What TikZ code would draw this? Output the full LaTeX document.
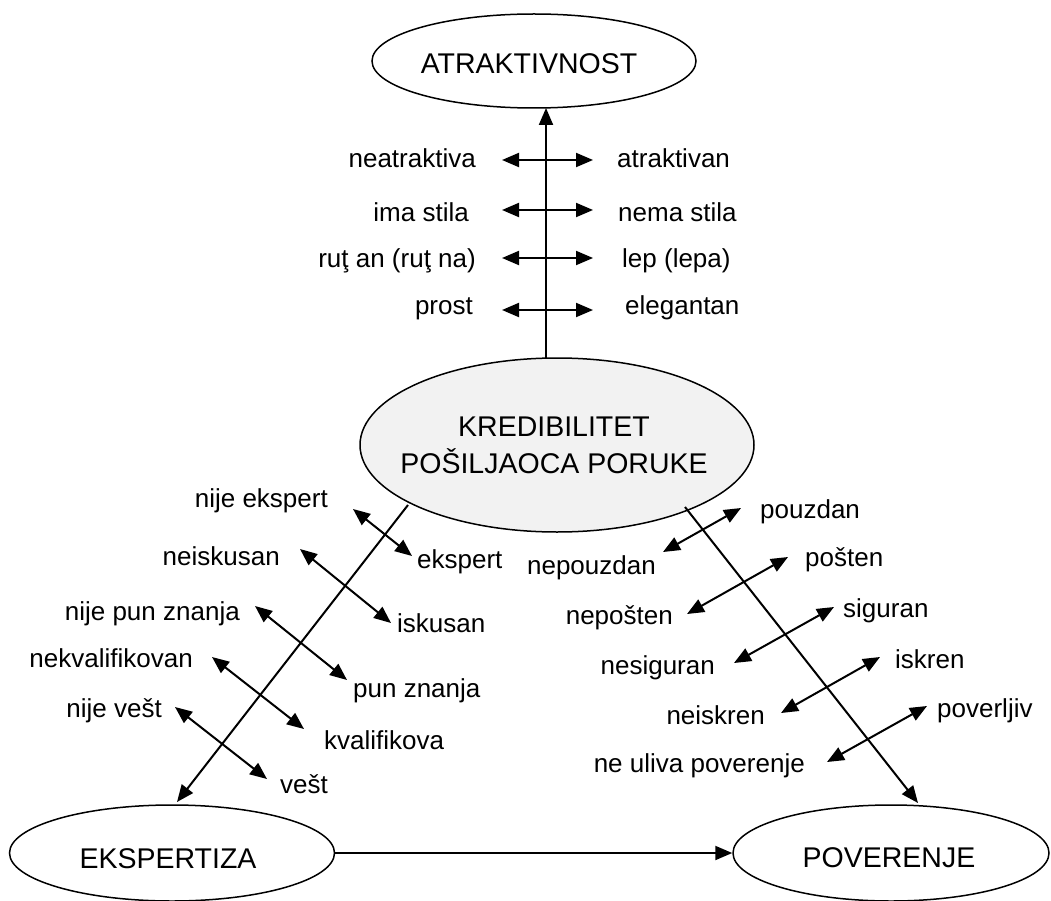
\documentclass[tikz,border=0pt]{standalone}
\usepackage{fontspec}
\setmainfont{Liberation Sans}
\usetikzlibrary{shapes.geometric,arrows.meta}
\definecolor{kredfill}{HTML}{F2F2F2}
\begin{document}
\begin{tikzpicture}[x=1pt,y=-1pt,
  oval/.style={draw, ellipse, line width=1.5pt, inner sep=0pt},
  captext/.style={inner sep=0pt, align=center, font=\fontsize{28.5}{37}\selectfont},
  lbl/.style={inner sep=0pt, font=\fontsize{26}{30}\selectfont},
  head/.style={Triangle[length=17pt,width=14pt]},
  tip/.style={-{Triangle[length=17pt,width=14pt]}, line width=2pt},
  dbl/.style={{Triangle[length=17pt,width=14pt]}-{Triangle[length=17pt,width=14pt]}, line width=2pt}]
\useasboundingbox (0,0) rectangle (1051,901);

% the four concepts
\node[oval, minimum width=324pt, minimum height=94pt] (atr) at (534,61) {};
\node[captext] (atrtxt) at (529,64) {ATRAKTIVNOST};
\node[oval, fill=kredfill, minimum width=394pt, minimum height=174pt] (kred) at (557,445) {};
\node[captext] (kredtxt) at (554,445) {KREDIBILITET\\POŠILJAOCA PORUKE};
\node[oval, minimum width=325pt, minimum height=96pt] (eks) at (172,853) {};
\node[captext] (ekstxt) at (168,859) {EKSPERTIZA};
\node[oval, minimum width=316pt, minimum height=96pt] (pov) at (891,853) {};
\node[captext] (povtxt) at (889,858) {POVERENJE};

% main connectors
\coordinate (kredtop) at (546,358);
\coordinate (atrbot) at (546,108);
\coordinate (kredsw) at (408,505);
\coordinate (ekstop) at (177,802);
\coordinate (kredse) at (685,507);
\coordinate (povtop) at (918,803);
\draw[tip] (kredtop) -- (atrbot);
\draw[tip] (kredsw) -- (ekstop);
\draw[tip] (kredse) -- (povtop);
\draw[tip] (eks.east) -- (pov.west);

% attractiveness scales
\foreach \n/\y/\b/\l/\lx/\r/\rx in {
  a/160/168/neatraktiva/476/atraktivan/617,
  b/210/222/ima stila/469/nema stila/618,
  c/258/267/ruţ an (ruţ na)/476/lep (lepa)/622,
  d/310/314/prost/473/elegantan/625}{
  \coordinate (\n l) at (502,\y);
  \coordinate (\n r) at (593,\y);
  \draw[dbl] (\n l) -- (\n r);
  \node[lbl, anchor=base east] (\n ltxt) at (\lx,\b) {\l};
  \node[lbl, anchor=base west] (\n rtxt) at (\rx,\b) {\r};
}

% expertise scales
\foreach \n/\ax/\ay/\bx/\by/\l/\lx/\ly/\r/\rx/\ry in {
  e/353/509/412/556/nije ekspert/328/507/ekspert/417/568,
  f/300/549/391/623/neiskusan/280/565/iskusan/397/632,
  g/255/606/347/680/nije pun znanja/240/620/pun znanja/353/697,
  h/212/657/304/729/nekvalifikovan/193/667/kvalifikova/324/749,
  i/175/707/267/779/nije vešt/162/717/vešt/280/793}{
  \coordinate (\n l) at (\ax,\ay);
  \coordinate (\n r) at (\bx,\by);
  \draw[dbl] (\n l) -- (\n r);
  \node[lbl, anchor=base east] (\n ltxt) at (\lx,\ly) {\l};
  \node[lbl, anchor=base west] (\n rtxt) at (\rx,\ry) {\r};
}

% trust scales
\foreach \n/\ax/\ay/\bx/\by/\l/\lx/\ly/\r/\rx/\ry in {
  p/663/552/741/508/nepouzdan/656/574/pouzdan/760/518,
  q/687/614/788/557/nepošten/673/624/pošten/805/566,
  s/734/663/834/607/nesiguran/715/674/siguran/843/617,
  t/781/713/880/657/neiskren/765/724/iskren/895/668,
  u/827/762/927/706/ne uliva poverenje/805/772/poverljiv/937/717}{
  \coordinate (\n l) at (\ax,\ay);
  \coordinate (\n r) at (\bx,\by);
  \draw[dbl] (\n l) -- (\n r);
  \node[lbl, anchor=base east] (\n ltxt) at (\lx,\ly) {\l};
  \node[lbl, anchor=base west] (\n rtxt) at (\rx,\ry) {\r};
}
\end{tikzpicture}
\end{document}
